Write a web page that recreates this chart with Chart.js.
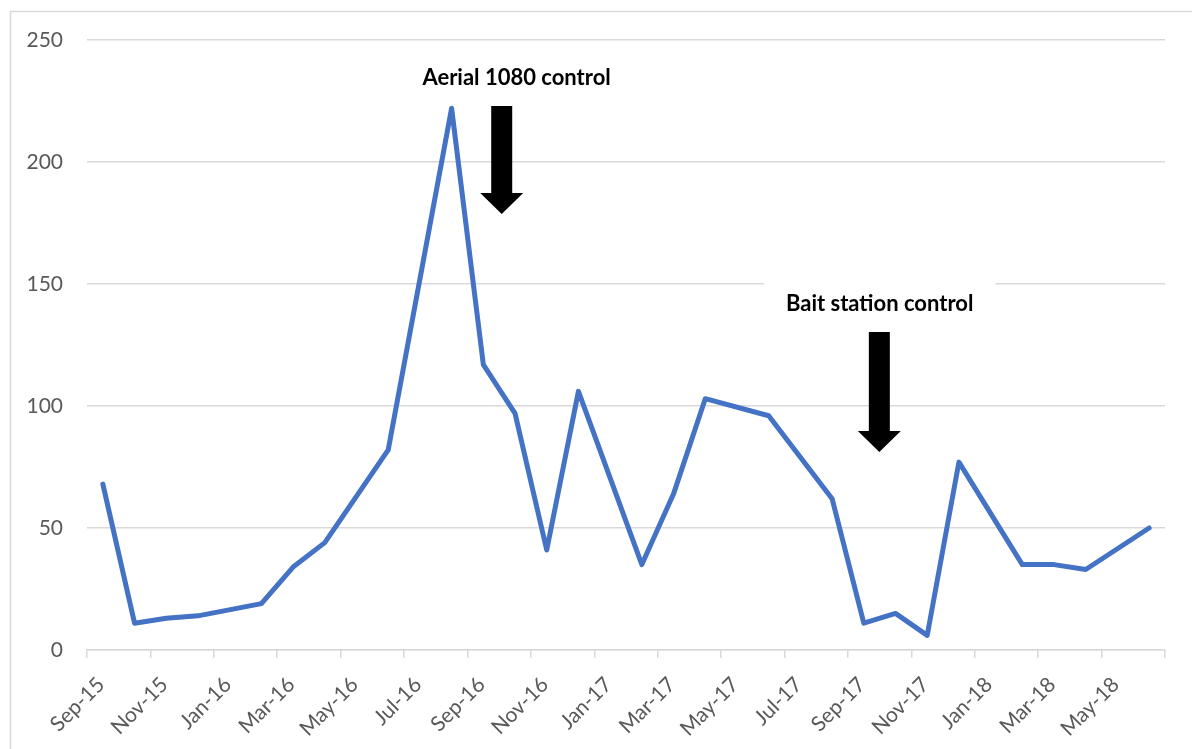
<!DOCTYPE html>
<html>
<head>
<meta charset="utf-8">
<script src="https://cdn.jsdelivr.net/npm/chart.js@4/dist/chart.umd.min.js"></script>
<style>
  html, body { margin: 0; padding: 0; background: #ffffff; }
  #wrap { width: 1192px; height: 749px; }
</style>
</head>
<body>
<div id="wrap"><canvas id="c" width="1192" height="749"></canvas></div>
<script>
// Monthly survey counts
const sampleMonths = [
  '2015-09', '2015-10', '2015-11', '2015-12', '2016-02', '2016-03', '2016-04',
  '2016-06', '2016-08', '2016-09', '2016-10', '2016-11', '2016-12', '2017-02',
  '2017-03', '2017-04', '2017-06', '2017-08', '2017-09', '2017-10', '2017-11',
  '2017-12', '2018-02', '2018-03', '2018-04', '2018-06'
];
const counts = [
  68, 11, 13, 14, 19, 34, 44,
  82, 222, 117, 97, 41, 106, 35,
  64, 103, 96, 62, 11, 15, 6,
  77, 35, 35, 33, 50
];
const monthNames = ['Jan', 'Feb', 'Mar', 'Apr', 'May', 'Jun', 'Jul', 'Aug', 'Sep', 'Oct', 'Nov', 'Dec'];
const axisStart = { year: 2015, month: 9 };   // first month on the axis
const axisMonths = 34;                         // Sep-15 .. Jun-18 inclusive
const yTicks = [0, 50, 100, 150, 200, 250];

// Control events marked on the chart
const eventLabels = ['Aerial 1080 control', 'Bait station control'];
const eventMonths = ['2016-10', '2017-10'];

// month string -> months since axis start (month spans [i, i+1))
function monthIndex(s) {
  const [y, m] = s.split('-').map(Number);
  return (y - axisStart.year) * 12 + (m - axisStart.month);
}
function tickLabel(i) {
  const total = axisStart.month - 1 + i;
  const y = axisStart.year + Math.floor(total / 12);
  const m = total % 12;
  return monthNames[m] + '-' + String(y).slice(2);
}

const points = sampleMonths.map((s, k) => ({ x: monthIndex(s) + 0.5, y: counts[k] }));

// annotation layout in data units (x = month index, y = count)
const eventLayout = [
  { text: { x: monthIndex(eventMonths[0]) + 0.55, y: 234.5 }, arrow: { x: monthIndex(eventMonths[0]) + 0.08, top: 223, headBase: 187.3, tip: 178.7 }, box: false },
  { text: { x: monthIndex(eventMonths[1]) + 0.0, y: 142 }, arrow: { x: monthIndex(eventMonths[1]) - 0.01, top: 130.3, headBase: 89.8, tip: 81.1 }, box: true }
];

// slanted month labels under the x axis
const axisFont = '21px Lato';
const axisTextColor = '#595959';
const slantLabels = {
  id: 'slantLabels',
  afterDraw(chart) {
    const ctx = chart.ctx;
    const xs = chart.scales.x;
    ctx.save();
    ctx.font = axisFont;
    ctx.fillStyle = axisTextColor;
    ctx.textAlign = 'right';
    ctx.textBaseline = 'middle';
    xs.ticks.forEach(t => {
      if (t.value >= axisMonths) return;
      const px = xs.getPixelForValue(t.value);
      ctx.save();
      ctx.translate(px + 14, xs.top + 31);
      ctx.rotate(-Math.PI / 4);
      ctx.fillText(tickLabel(t.value), 0, 0);
      ctx.restore();
    });
    ctx.restore();
  }
};

const frame = {
  id: 'frame',
  beforeDraw(chart) {
    const ctx = chart.ctx;
    ctx.save();
    ctx.fillStyle = '#ffffff';
    ctx.fillRect(0, 0, chart.width, chart.height);
    ctx.strokeStyle = '#d9d9d9';
    ctx.lineWidth = 1.5;
    ctx.strokeRect(10.5, 11.5, chart.width + 20, chart.height + 20);
    ctx.restore();
  }
};

const events = {
  id: 'events',
  afterDatasetsDraw(chart) {
    const ctx = chart.ctx;
    const xs = chart.scales.x, ys = chart.scales.y;
    ctx.save();
    ctx.font = 'bold 22px Lato';
    ctx.textAlign = 'center';
    ctx.textBaseline = 'middle';
    eventLayout.forEach((ev, i) => {
      const tx = xs.getPixelForValue(ev.text.x);
      const ty = ys.getPixelForValue(ev.text.y);
      if (ev.box) {
        const w = ctx.measureText(eventLabels[i]).width + 44;
        ctx.fillStyle = '#ffffff';
        ctx.fillRect(tx - w / 2, ty - 25, w, 50);
      }
      ctx.fillStyle = '#000000';
      ctx.fillText(eventLabels[i], tx, ty);

      const ax = xs.getPixelForValue(ev.arrow.x);
      const top = ys.getPixelForValue(ev.arrow.top);
      const hb = ys.getPixelForValue(ev.arrow.headBase);
      const tip = ys.getPixelForValue(ev.arrow.tip);
      const sw = 10.5, hw = 21.5;
      ctx.beginPath();
      ctx.moveTo(ax - sw, top);
      ctx.lineTo(ax + sw, top);
      ctx.lineTo(ax + sw, hb);
      ctx.lineTo(ax + hw, hb);
      ctx.lineTo(ax, tip);
      ctx.lineTo(ax - hw, hb);
      ctx.lineTo(ax - sw, hb);
      ctx.closePath();
      ctx.fillStyle = '#000000';
      ctx.fill();
    });
    ctx.restore();
  }
};

new Chart(document.getElementById('c'), {
  type: 'line',
  data: {
    datasets: [{
      data: points,
      borderColor: '#4472C4',
      borderWidth: 5,
      borderJoinStyle: 'round',
      borderCapStyle: 'round',
      pointRadius: 0,
      tension: 0,
      fill: false
    }]
  },
  options: {
    responsive: false,
    animation: false,
    events: [],
    layout: { padding: { left: 10, top: 40, right: 27, bottom: 0 } },
    plugins: { legend: { display: false }, tooltip: { enabled: false } },
    scales: {
      x: {
        type: 'linear',
        min: 0,
        max: axisMonths,
        afterBuildTicks(scale) {
          const t = [];
          for (let i = 0; i <= axisMonths; i += 2) t.push({ value: i });
          scale.ticks = t;
        },
        afterFit(scale) { scale.height = 99; },
        grid: {
          drawOnChartArea: false,
          drawTicks: true,
          tickLength: 8,
          color: '#d9d9d9',
          lineWidth: 1.5
        },
        border: { display: true, color: '#d9d9d9', width: 1.5 },
        ticks: { display: false }
      },
      y: {
        min: 0,
        max: 250,
        afterBuildTicks(scale) { scale.ticks = yTicks.map(v => ({ value: v })); },
        afterFit(scale) { scale.width = 77; },
        grid: { color: '#d9d9d9', lineWidth: 1.5, drawTicks: false },
        border: { display: false },
        ticks: {
          padding: 24,
          color: axisTextColor,
          font: { family: 'Lato', size: 21 }
        }
      }
    }
  },
  plugins: [frame, events, slantLabels]
});
</script>
</body>
</html>
